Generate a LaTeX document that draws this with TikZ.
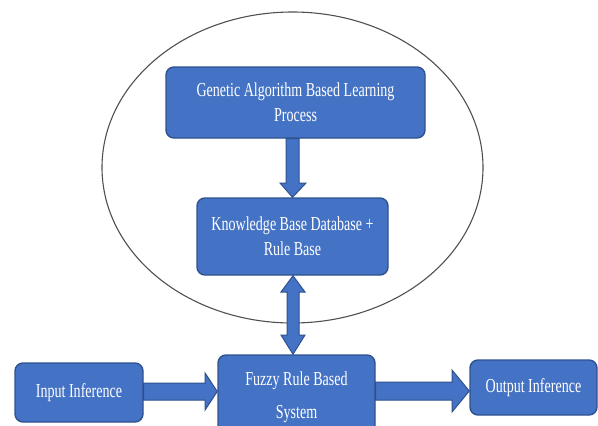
\documentclass[tikz,border=0pt]{standalone}
\usepackage{fontspec}
\newfontfamily\boxfont{Liberation Serif}[FakeStretch=0.71]
\usetikzlibrary{calc}
\definecolor{boxfill}{HTML}{4472C4}
\definecolor{boxline}{HTML}{2F528F}
\definecolor{ringline}{HTML}{505050}
\tikzset{
  stagebox/.style={draw=boxline, line width=1.4pt, fill=boxfill, rounded corners=8pt,
    text=white, align=center, inner sep=0pt,
    font=\boxfont\fontsize{19.8}{25}\selectfont},
  blockarrow/.style={draw=boxline, line width=1pt, fill=boxfill, line join=miter},
  ring/.style={draw=ringline, line width=1.1pt}
}
\begin{document}
\begin{tikzpicture}[x=1pt,y=-1pt]
\clip (0,0) rectangle (598,426);
\fill[white] (0,0) rectangle (598,426);

% enclosing learning loop
\draw[ring] (292.5,167.5) ellipse [x radius=190.5, y radius=155.5];

% stages
\node[stagebox, minimum width=259pt, minimum height=71pt] (ga) at (295.5,102.5)
  {Genetic Algorithm Based Learning\\Process};
\node[stagebox, minimum width=191pt, minimum height=77pt] (kb) at (292.5,236.5)
  {Knowledge Base Database +\\Rule Base};
\node[stagebox, minimum width=157pt, minimum height=85pt,
  font=\boxfont\fontsize{19.8}{33}\selectfont] (fz) at (296.5,397.5)
  {Fuzzy Rule Based\\System};
\node[stagebox, minimum width=128pt, minimum height=59pt] (in) at (79,392.5)
  {Input Inference};
\node[stagebox, minimum width=127pt, minimum height=55pt] (out) at (533.5,387.5)
  {Output Inference};

% GA -> knowledge base
\path[blockarrow] (ga.south -| 286,0) -- (286,183) -- (280,183) -- (kb.north -| 292.5,0)
  -- (306,183) -- (299,183) -- (ga.south -| 299,0) -- cycle;

% knowledge base <-> fuzzy system
\path[blockarrow] (kb.south -| 293,0) -- (305,292) -- (299,292) -- (299,335) -- (305,335)
  -- (fz.north -| 293,0) -- (281,335) -- (287,335) -- (287,292) -- (281,292) -- cycle;

% input -> fuzzy system
\path[blockarrow] (in.east |- 0,383) -- (205,383) -- (205,373) -- (fz.west |- 0,391.5)
  -- (205,410) -- (205,400) -- (in.east |- 0,400) -- cycle;

% fuzzy system -> output
\path[blockarrow] (fz.east |- 0,382) -- (452,382) -- (452,370) -- (out.west |- 0,391)
  -- (452,412) -- (452,400) -- (fz.east |- 0,400) -- cycle;
\end{tikzpicture}
\end{document}
